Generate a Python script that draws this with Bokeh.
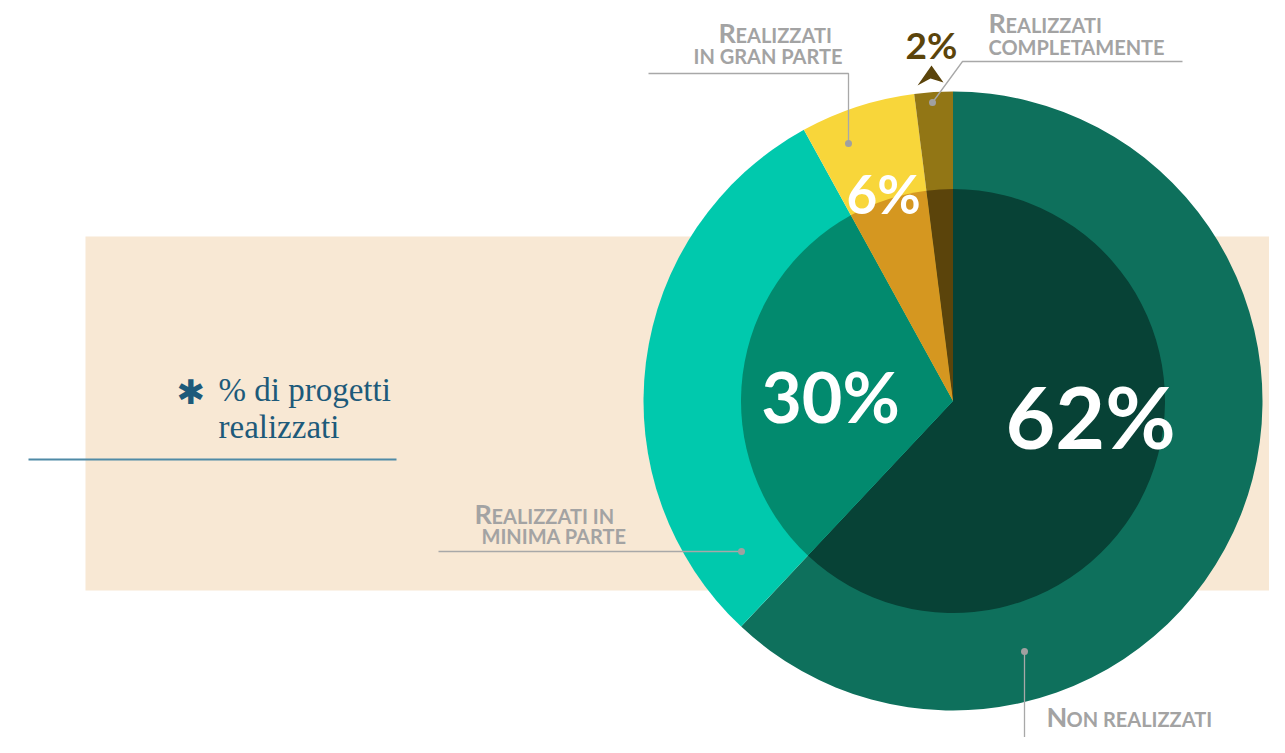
import numpy as np
from bokeh.plotting import figure
from bokeh.models import Range1d, ColumnDataSource
from bokeh.embed import file_html
from bokeh.resources import INLINE
from bokeh.core.properties import value

# ---------------- data ----------------
categories = ["Non realizzati", "Realizzati in minima parte",
              "Realizzati in gran parte", "Realizzati completamente"]
percent = [62, 30, 6, 2]
pct_labels = ["62%", "30%", "6%", "2%"]
outer_colors = ["#0e705c", "#00c9ad", "#f8d63a", "#927615"]
inner_colors = ["#074236", "#028a6e", "#d59720", "#5b440b"]
title_lines = ["% di progetti", "realizzati"]

H = 753
def Y(py):
    return H - py

BASE_K = 0.37  # baseline correction (fraction of font size)
def TY(py, fs):
    return Y(py - BASE_K * fs)

p = figure(width=1269, height=737, x_range=Range1d(0, 1269), y_range=Range1d(16, 753),
           output_backend="svg", toolbar_location=None,
           x_axis_location=None, y_axis_location=None, min_border=0,
           outline_line_color=None, background_fill_color="white",
           border_fill_color="white")
p.grid.visible = False

# beige band
p.quad(left=[85], right=[1290], top=[Y(236)], bottom=[Y(590)],
       fill_color="#f8e8d4", line_color=None)

# pie
cx, cy = 952.5, Y(400.5)
R_out, R_in = 309.5, 212
cum = np.cumsum([0] + percent)
start = np.deg2rad(90 - cum[1:] * 3.6)
end = np.deg2rad(90 - cum[:-1] * 3.6)
src = ColumnDataSource(dict(cat=categories, start=start, end=end,
                            oc=outer_colors, ic=inner_colors))
p.wedge(x=cx, y=cy, radius=R_out, start_angle="start", end_angle="end",
        fill_color="oc", line_color=None, source=src)
p.wedge(x=cx, y=cy, radius=R_in, start_angle="start", end_angle="end",
        fill_color="ic", line_color=None, source=src)

# percentage labels
sizes = [86, 70, 53, 37]
lab = ColumnDataSource(dict(
    x=[1090, 830, 883, 931],
    y=[TY(447, 86), TY(421, 70), TY(213, 53), TY(58, 37)],
    text=pct_labels,
    size=[f"{s}px" for s in sizes],
    color=["white", "white", "white", "#5b440b"],
))
p.text(x="x", y="y", text="text", text_font_size="size", text_color="color",
       text_font=value("Lato"), text_font_style="bold",
       text_align="center", text_baseline="alphabetic", source=lab)

# arrow under 2%
ax, ay = 930, 76
p.patch(x=[ax + 1, ax - 13, ax, ax + 13], y=[Y(ay - 11), Y(ay + 9), Y(ay + 2), Y(ay + 6)],
        fill_color="#5b440b", line_color=None)

# leader lines
gray_line = "#a8a8a8"
p.line(x=[648, 848, 848], y=[Y(73), Y(73), Y(143)], line_color=gray_line, line_width=1.3)
p.line(x=[1182, 962, 932], y=[Y(61), Y(61), Y(102)], line_color=gray_line, line_width=1.3)
p.line(x=[438, 741], y=[Y(551), Y(551)], line_color=gray_line, line_width=1.3)
p.line(x=[1024, 1024], y=[Y(651), Y(760)], line_color=gray_line, line_width=1.3)
p.scatter(x=[848, 932, 741, 1024], y=[Y(143), Y(102), Y(551), Y(651)],
          size=7, fill_color="#a0a0a0", line_color=None)

# small caps labels
label_gray = "#a3a3a3"
BIG, SMALL = 27, 20
def small_caps(x_big, x_rest, y_base, big, rest):
    if big:
        p.text(x=[x_big], y=[TY(y_base, BIG)], text=[big], text_font=value("Lato"),
               text_font_style="bold", text_font_size=f"{BIG}px", text_color=label_gray,
               text_align="left", text_baseline="alphabetic")
    p.text(x=[x_rest], y=[TY(y_base, SMALL)], text=[rest], text_font=value("Lato"),
           text_font_style="bold", text_font_size=f"{SMALL}px", text_color=label_gray,
           text_align="left", text_baseline="alphabetic")

small_caps(718, 735, 42, "R", "EALIZZATI")
small_caps(None, 693, 63, None, "IN GRAN PARTE")
small_caps(988, 1005, 32, "R", "EALIZZATI")
small_caps(None, 988, 54, None, "COMPLETAMENTE")
small_caps(474, 491, 523, "R", "EALIZZATI IN")
small_caps(None, 481, 543, None, "MINIMA PARTE")
small_caps(1046, 1066, 726, "N", "ON REALIZZATI")

# title block
blue = "#1d5a7a"
p.text(x=[176], y=[TY(404, 34)], text=["\u2731"], text_font=value("DejaVu Sans"),
       text_font_style="bold", text_font_size="34px", text_color=blue,
       text_align="left", text_baseline="alphabetic")
p.text(x=[218, 218], y=[TY(402, 33), TY(439, 33)], text=title_lines,
       text_font=value("Liberation Serif"), text_font_size="33px", text_color=blue,
       text_align="left", text_baseline="alphabetic")
p.line(x=[28, 396], y=[Y(459), Y(459)], line_color="#4f8aa6", line_width=2)

open("out.html", "w").write(file_html(p, INLINE))
